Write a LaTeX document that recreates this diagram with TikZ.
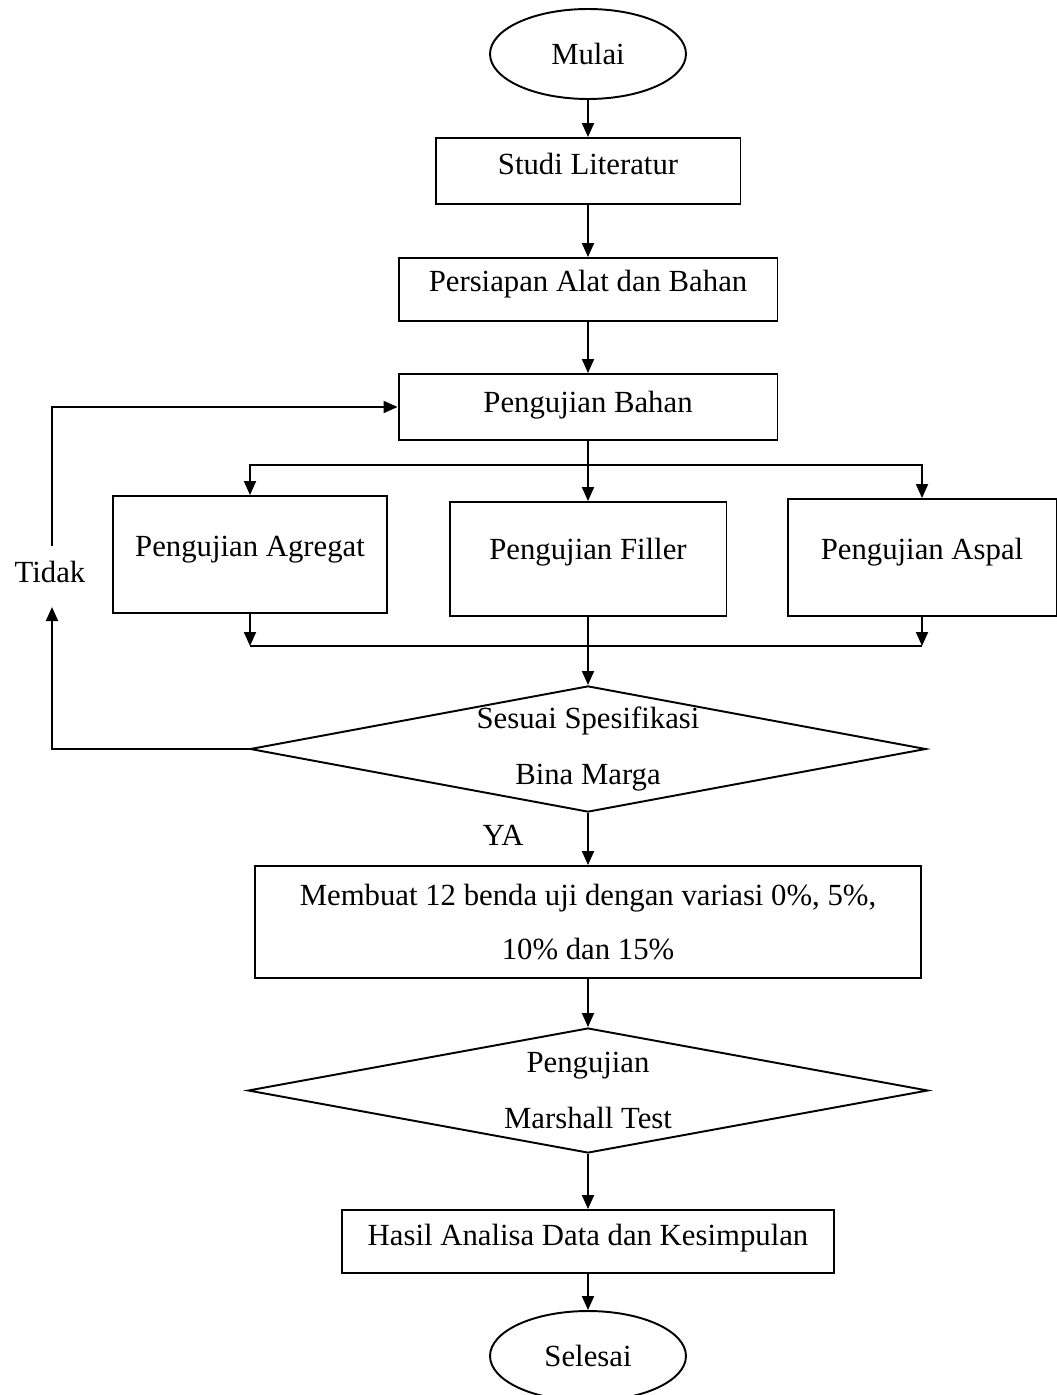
\documentclass[tikz,border=0pt]{standalone}
\usepackage{fontspec}
\setmainfont{Liberation Serif}
\usetikzlibrary{shapes.geometric,arrows.meta}

\begin{document}
\begin{tikzpicture}[x=0.02cm,y=-0.02cm,line width=1.1pt,
  font=\fontsize{17.5}{21}\selectfont,
  proc/.style={draw,rectangle,inner sep=0pt},
  term/.style={draw,ellipse,inner sep=0pt,minimum width=3.92cm,minimum height=1.8cm},
  cek/.style={draw,diamond,inner sep=0pt,align=center,font=\fontsize{17.5}{32}\selectfont},
  tup/.style={text height=0.42cm,text depth=#1},
  arr/.style={-{Triangle[length=2.8mm,width=2.4mm]}}]
\useasboundingbox (0,0) rectangle (1057,1395);
\node[term] (mulai) at (588,54) {Mulai};
\node[proc,minimum width=6.1cm,minimum height=1.32cm,tup=0.28cm] (studi) at (588,171) {Studi Literatur};
\node[proc,minimum width=7.58cm,minimum height=1.26cm,tup=0.32cm] (siap) at (588,289.5) {Persiapan Alat dan Bahan};
\node[proc,minimum width=7.58cm,minimum height=1.32cm,tup=0.22cm] (bahan) at (588,407) {Pengujian Bahan};
\node[proc,minimum width=5.48cm,minimum height=2.34cm,tup=0.34cm] (agregat) at (250,554.5) {Pengujian Agregat};
\node[proc,minimum width=5.54cm,minimum height=2.28cm,tup=0.42cm] (filler) at (588,559) {Pengujian Filler};
\node[proc,minimum width=5.38cm,minimum height=2.34cm,tup=0.36cm] (aspal) at (922,557.5) {Pengujian Aspal};
\node[cek,minimum width=13.5cm,minimum height=2.52cm,aspect=5.36] (spek) at (588,749) {Sesuai Spesifikasi\\Bina Marga};
\node[proc,minimum width=13.32cm,minimum height=2.24cm,align=center,font=\fontsize{17.5}{31}\selectfont] (benda) at (588,922) {Membuat 12 benda uji dengan variasi 0\%, 5\%,\\10\% dan 15\%};
\node[cek,minimum width=13.6cm,minimum height=2.5cm,aspect=5.44] (marshall) at (588,1090.5) {Pengujian\\Marshall Test};
\node[proc,minimum width=9.84cm,minimum height=1.26cm,tup=0.26cm] (hasil) at (588,1241.5) {Hasil Analisa Data dan Kesimpulan};
\node[term] (selesai) at (588,1356) {Selesai};
\node (tidak) at (50,572) {Tidak};
\node (ya) at (503,835) {YA};
\coordinate (cabang) at (588,465);
\coordinate (gabung) at (588,646);
\coordinate (tidakbawah) at (52,607);
\coordinate (tidakatas) at (52,546);

\draw[arr] (mulai) -- (studi);
\draw[arr] (studi) -- (siap);
\draw[arr] (siap) -- (bahan);
\draw (bahan) -- (cabang);
\draw[arr] (cabang) -| (agregat);
\draw[arr] (cabang) -- (filler);
\draw[arr] (cabang) -| (aspal);
\draw[arr] (agregat) -- (agregat |- gabung);
\draw[arr] (aspal) -- (aspal |- gabung);
\draw (agregat |- gabung) -- (aspal |- gabung);
\draw[arr] (filler) -- (spek);
\draw[arr] (spek) -- (benda);
\draw[arr] (benda) -- (marshall);
\draw[arr] (marshall) -- (hasil);
\draw[arr] (hasil) -- (selesai);
\draw[arr] (spek.west) -| (tidakbawah);
\draw[arr] (tidakatas) |- (bahan.west);
\end{tikzpicture}
\end{document}
